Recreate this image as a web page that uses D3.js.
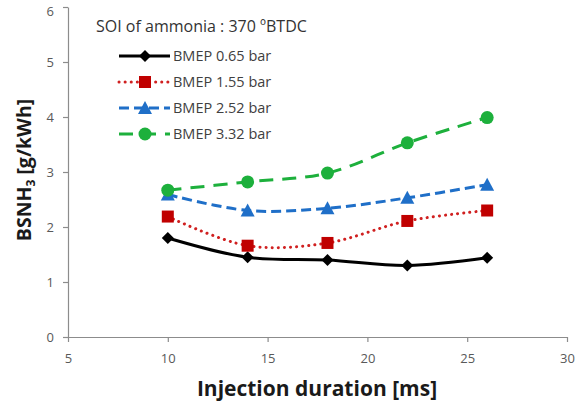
<!doctype html>
<html>
<head>
	<style>
body { margin: 0; background: #fff; }
.axis path, .axis line { stroke: #8c8c8c; stroke-width: 1.2px; }
.axis text { fill: #595959; font-size: 13px; font-family: "Open Sans", sans-serif; }
.line { fill: none; stroke-width: 3px; }
	</style>
</head>
<body>
	<div id="root"></div>
	<script src="https://d3js.org/d3.v7.min.js"></script>
	<script>

	var durations = [10, 14, 18, 22, 26];
	var bmep065 = [1.80, 1.45, 1.40, 1.30, 1.44];
	var bmep155 = [2.19, 1.66, 1.71, 2.11, 2.30];
	var bmep252 = [2.59, 2.30, 2.34, 2.53, 2.77];
	var bmep332 = [2.67, 2.82, 2.98, 3.53, 3.99];
	var seriesNames = ['BMEP 0.65 bar', 'BMEP 1.55 bar', 'BMEP 2.52 bar', 'BMEP 3.32 bar'];
	var xTicks = [5, 10, 15, 20, 25, 30];
	var yTicks = [0, 1, 2, 3, 4, 5, 6];

	var series = [
		{ name: seriesNames[0], values: bmep065, color: '#000000', dash: null, marker: 'diamond' },
		{ name: seriesNames[1], values: bmep155, color: '#d02020', dash: '0.1,6', cap: 'round', marker: 'square', markerColor: '#c00000' },
		{ name: seriesNames[2], values: bmep252, color: '#1f6fc8', dash: '10,5', marker: 'triangle' },
		{ name: seriesNames[3], values: bmep332, color: '#1db03c', dash: '14,9', marker: 'circle' }
	];

	var svg = d3.select('#root').append('svg')
		.attr('width', 580)
		.attr('height', 401)
		.style('font-family', '"Open Sans", sans-serif');

	var x = d3.scaleLinear().domain([5, 30]).range([68, 567]);
	var y = d3.scaleLinear().domain([0, 6]).range([337, 7]);

	svg.append('g')
		.attr('class', 'axis')
		.attr('transform', 'translate(0,' + y(0) + ')')
		.call(d3.axisBottom(x).tickValues(xTicks).tickFormat(d3.format('d')).tickSize(5).tickSizeOuter(0).tickPadding(12));

	var yAxis = svg.append('g')
		.attr('class', 'axis')
		.attr('transform', 'translate(' + x(5) + ',0)')
		.call(d3.axisLeft(y).tickValues(yTicks).tickFormat(d3.format('d')).tickSize(5).tickSizeOuter(0).tickPadding(9));
	// keep the top label inside the frame
	yAxis.selectAll('.tick text').filter(function(d) { return d === 6; }).attr('dy', '0.62em');

	// axis titles
	svg.append('text')
		.attr('x', 317)
		.attr('y', 396)
		.attr('text-anchor', 'middle')
		.attr('font-size', 21)
		.attr('font-weight', 'bold')
		.attr('fill', '#1a1a1a')
		.text('Injection duration [ms]');

	var yt = svg.append('text')
		.attr('transform', 'translate(31,170) rotate(-90)')
		.attr('text-anchor', 'middle')
		.attr('font-size', 19.5)
		.attr('font-weight', 'bold')
		.attr('fill', '#1a1a1a');
	yt.append('tspan').text('BSNH');
	yt.append('tspan').attr('font-size', 12).attr('dy', 4).text('3');
	yt.append('tspan').attr('dy', -4).text(' [g/kWh]');

	var line = d3.line()
		.x(function(d, i) { return x(durations[i]); })
		.y(function(d) { return y(d); })
		.curve(d3.curveCatmullRom.alpha(0.5));

	function drawMarker(g, s, cx, cy) {
		var c = s.markerColor || s.color;
		if (s.marker === 'diamond') {
			g.append('path').attr('d', 'M' + cx + ',' + (cy - 6) + 'L' + (cx + 6) + ',' + cy + 'L' + cx + ',' + (cy + 6) + 'L' + (cx - 6) + ',' + cy + 'Z').attr('fill', c);
		} else if (s.marker === 'square') {
			g.append('rect').attr('x', cx - 6).attr('y', cy - 6).attr('width', 12).attr('height', 12).attr('fill', c);
		} else if (s.marker === 'triangle') {
			g.append('path').attr('d', 'M' + cx + ',' + (cy - 7) + 'L' + (cx + 7) + ',' + (cy + 6) + 'L' + (cx - 7) + ',' + (cy + 6) + 'Z').attr('fill', c);
		} else {
			g.append('circle').attr('cx', cx).attr('cy', cy).attr('r', 6.5).attr('fill', c);
		}
	}

	series.forEach(function(s) {
		var g = svg.append('g');
		g.append('path')
			.attr('class', 'line')
			.attr('d', line(s.values))
			.attr('stroke', s.color)
			.attr('stroke-dasharray', s.dash)
			.attr('stroke-linecap', s.cap || 'butt');
		s.values.forEach(function(v, i) {
			drawMarker(g, s, x(durations[i]), y(v));
		});
	});

	// legend
	svg.append('text')
		.attr('x', 96)
		.attr('y', 32)
		.attr('font-size', 16)
		.attr('fill', '#333')
		.text('SOI of ammonia : 370 ºBTDC');

	series.forEach(function(s, i) {
		var ly = 56 + i * 26;
		var g = svg.append('g');
		g.append('line')
			.attr('x1', 119).attr('x2', 170)
			.attr('y1', ly).attr('y2', ly)
			.attr('stroke', s.color)
			.attr('stroke-width', 3)
			.attr('stroke-dasharray', s.dash)
			.attr('stroke-linecap', s.cap || 'butt');
		drawMarker(g, s, 145, ly);
		g.append('text')
			.attr('x', 173)
			.attr('y', ly + 5)
			.attr('font-size', 14.5)
			.attr('fill', '#404040')
			.text(s.name);
	});

	</script>
</body>
</html>
